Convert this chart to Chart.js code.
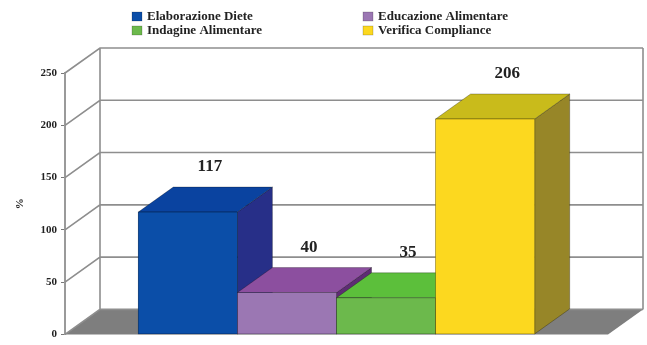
<!DOCTYPE html>
<html>
<head>
<meta charset="utf-8">
<script src="https://cdn.jsdelivr.net/npm/chart.js@4/dist/chart.umd.min.js"></script>
<style>
  body { margin: 0; background: #fff; }
  #wrap { width: 647px; height: 345px; }
</style>
</head>
<body>
<div id="wrap"><canvas id="chart" width="647" height="345"></canvas></div>
<script>
const categories = [''];
const series = ['Elaborazione Diete', 'Educazione Alimentare', 'Indagine Alimentare', 'Verifica Compliance'];
const values = [117, 40, 35, 206];
const yTicks = [0, 50, 100, 150, 200, 250];

const frontColors = ['#0b4ea8', '#9b77b3', '#6cb94c', '#fcd81f'];
const topColors = ['#0a43a0', '#8c4f9f', '#5cbf3b', '#c9bb1b'];
const sideColors = ['#272f88', '#5e2c74', '#3f8b2b', '#978628'];

// depth of the box, in pixels
const DX = 35, DY = -25;
const serif = 'Liberation Serif';

const box3d = {
  id: 'box3d',
  beforeDatasetsDraw(chart) {
    const {ctx, chartArea: a, scales: {y}} = chart;
    ctx.save();
    // floor
    ctx.fillStyle = '#7e7e7e';
    ctx.beginPath();
    ctx.moveTo(a.left, a.bottom);
    ctx.lineTo(a.right, a.bottom);
    ctx.lineTo(a.right + DX, a.bottom + DY);
    ctx.lineTo(a.left + DX, a.bottom + DY);
    ctx.closePath();
    ctx.fill();
    // side wall and back wall lines
    ctx.strokeStyle = '#8e8e8e';
    ctx.lineWidth = 1.6;
    ctx.beginPath();
    yTicks.forEach(v => {
      const py = y.getPixelForValue(v);
      ctx.moveTo(a.left, py);
      ctx.lineTo(a.left + DX, py + DY);
      ctx.lineTo(a.right + DX, py + DY);
    });
    const top = y.getPixelForValue(yTicks[yTicks.length - 1]);
    ctx.moveTo(a.left + DX, top + DY);
    ctx.lineTo(a.left + DX, a.bottom + DY);
    ctx.moveTo(a.right + DX, top + DY);
    ctx.lineTo(a.right + DX, a.bottom + DY);
    ctx.stroke();
    ctx.restore();
  },
  afterDatasetsDraw(chart) {
    const {ctx} = chart;
    const bars = [];
    chart.data.datasets.forEach((ds, i) => {
      const el = chart.getDatasetMeta(i).data[0];
      const p = el.getProps(['x', 'y', 'base', 'width'], true);
      bars.push({i, left: p.x - p.width / 2, right: p.x + p.width / 2, x: p.x, y: p.y, base: p.base});
    });
    bars.sort((a, b) => a.left - b.left);
    ctx.save();
    ctx.lineWidth = 0.8;
    ctx.strokeStyle = 'rgba(0,0,0,0.35)';
    bars.forEach(b => {
      // right side
      ctx.fillStyle = sideColors[b.i];
      ctx.beginPath();
      ctx.moveTo(b.right, b.y);
      ctx.lineTo(b.right + DX, b.y + DY);
      ctx.lineTo(b.right + DX, b.base + DY);
      ctx.lineTo(b.right, b.base);
      ctx.closePath();
      ctx.fill();
      ctx.stroke();
      // top
      ctx.fillStyle = topColors[b.i];
      ctx.beginPath();
      ctx.moveTo(b.left, b.y);
      ctx.lineTo(b.right, b.y);
      ctx.lineTo(b.right + DX, b.y + DY);
      ctx.lineTo(b.left + DX, b.y + DY);
      ctx.closePath();
      ctx.fill();
      ctx.stroke();
      // front
      ctx.fillStyle = frontColors[b.i];
      ctx.fillRect(b.left, b.y, b.right - b.left, b.base - b.y);
      ctx.strokeRect(b.left, b.y, b.right - b.left, b.base - b.y);
    });
    // value labels
    ctx.fillStyle = '#222';
    ctx.font = 'bold 17px "' + serif + '"';
    ctx.textAlign = 'center';
    ctx.textBaseline = 'middle';
    bars.forEach(b => {
      ctx.fillText(String(values[b.i]), b.x + 22, b.y + DY - 20);
    });
    ctx.restore();
  },
  afterDraw(chart) {
    // two-column legend
    const {ctx} = chart;
    const colX = [132, 363];
    const rowY = [17, 31];
    ctx.save();
    ctx.font = 'bold 13px "' + serif + '"';
    ctx.textBaseline = 'middle';
    ctx.textAlign = 'left';
    series.forEach((name, i) => {
      const x = colX[i % 2];
      const y = rowY[Math.floor(i / 2)];
      ctx.fillStyle = frontColors[i];
      ctx.fillRect(x, y - 5, 10, 9);
      ctx.strokeStyle = 'rgba(0,0,0,0.3)';
      ctx.lineWidth = 0.6;
      ctx.strokeRect(x, y - 5, 10, 9);
      ctx.fillStyle = '#222';
      ctx.fillText(name, x + 15, y);
    });
    ctx.restore();
  }
};

new Chart(document.getElementById('chart'), {
  type: 'bar',
  data: {
    labels: categories,
    datasets: series.map((name, i) => ({
      label: name,
      data: [values[i]],
      backgroundColor: frontColors[i],
      borderWidth: 0
    }))
  },
  options: {
    responsive: false,
    animation: false,
    categoryPercentage: 0.73,
    barPercentage: 1,
    layout: { padding: { top: 73, right: 39, bottom: 8, left: 0 } },
    plugins: {
      legend: { display: false },
      tooltip: { enabled: false }
    },
    scales: {
      x: { display: false },
      y: {
        min: 0,
        max: 250,
        afterBuildTicks: scale => { scale.ticks = yTicks.map(v => ({ value: v })); },
        afterFit: scale => { scale.width = 65; },
        ticks: {
          color: '#222',
          padding: 4,
          font: { family: serif, size: 11, weight: 'bold' }
        },
        grid: {
          drawOnChartArea: false,
          drawTicks: true,
          tickLength: 4,
          color: '#777'
        },
        border: { display: true, color: '#9a9a9a', width: 2 },
        title: {
          display: true,
          text: '%',
          color: '#222',
          padding: { top: 14, bottom: 0 },
          font: { family: serif, size: 11, weight: 'bold' }
        }
      }
    }
  },
  plugins: [box3d]
});
</script>
</body>
</html>
